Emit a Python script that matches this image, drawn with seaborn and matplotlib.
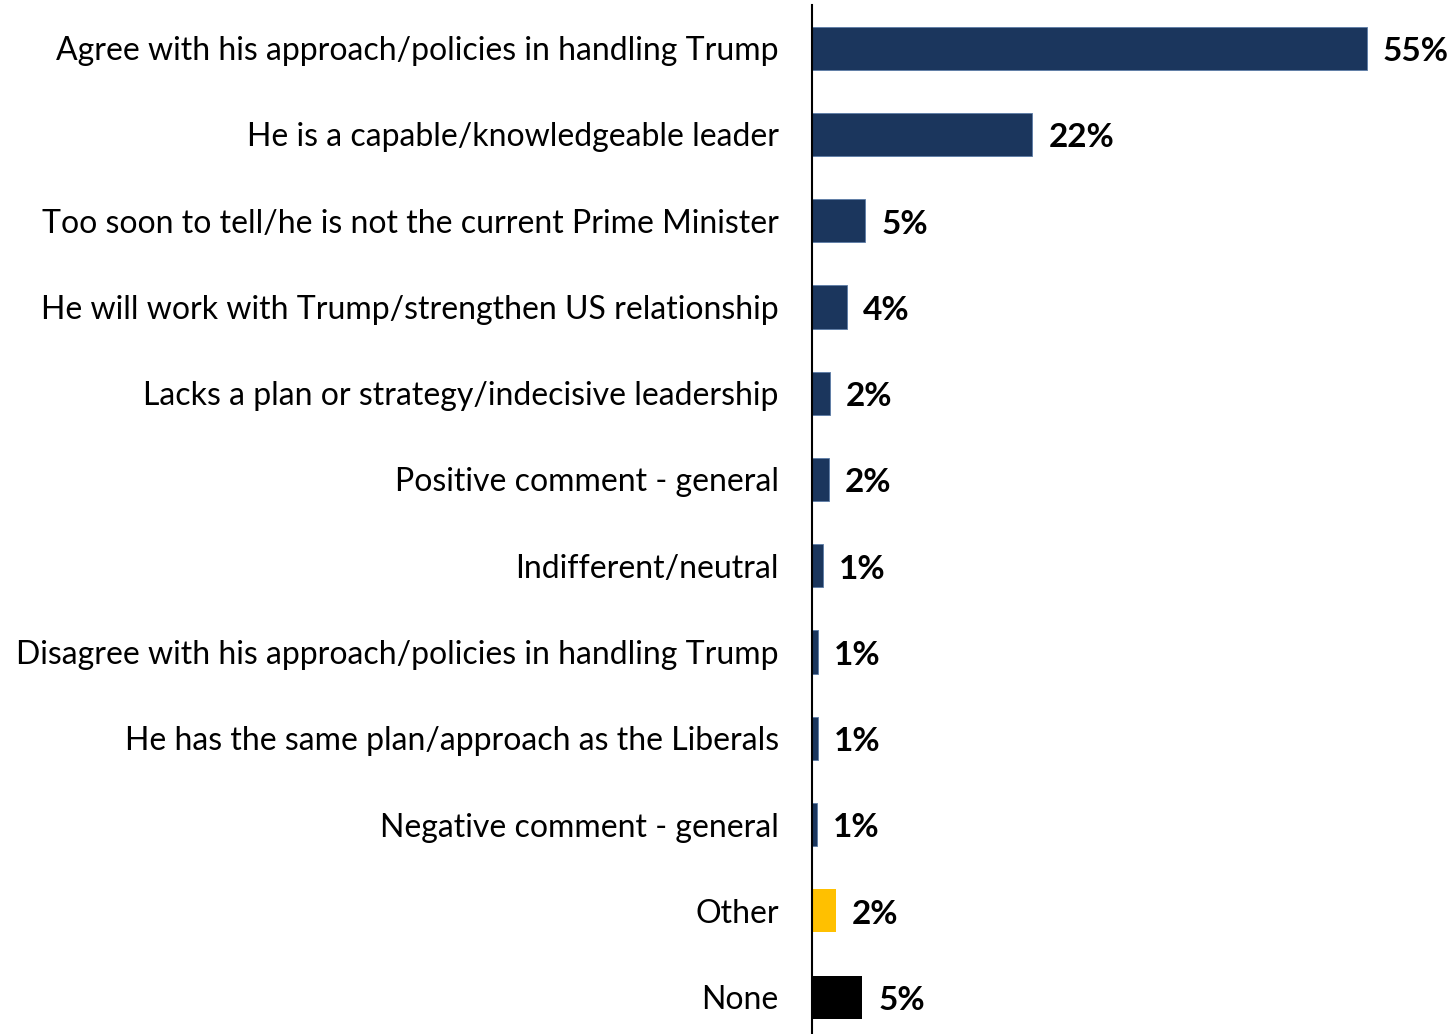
import matplotlib
matplotlib.use('Agg')
import matplotlib.pyplot as plt
import seaborn as sns
import pandas as pd

# reasons and shares (%)
reasons = ['Agree with his approach/policies in handling Trump',
           'He is a capable/knowledgeable leader',
           'Too soon to tell/he is not the current Prime Minister',
           'He will work with Trump/strengthen US relationship',
           'Lacks a plan or strategy/indecisive leadership',
           'Positive comment - general',
           'Indifferent/neutral',
           'Disagree with his approach/policies in handling Trump',
           'He has the same plan/approach as the Liberals',
           'Negative comment - general',
           'Other',
           'None']
shares = [55.4, 22.0, 5.3, 3.5, 1.8, 1.7, 1.1, 0.6, 0.6, 0.5, 2.4, 5.0]
labels = ['55%', '22%', '5%', '4%', '2%', '2%', '1%', '1%', '1%', '1%', '2%', '5%']
colors = ['#1B365D'] * 10 + ['#FFC000', '#000000']

df = pd.DataFrame({'reason': reasons, 'share': shares})

sns.set_style('white')
plt.rcParams['font.family'] = ['Lato', 'DejaVu Sans']

fig = plt.figure(figsize=(14.53, 10.34), dpi=100)
ax = fig.add_axes([812 / 1453, 0, 601 / 1453, 1029 / 1034])

sns.barplot(data=df, x='share', y='reason', hue='reason', palette=colors,
            legend=False, width=0.5, ax=ax, saturation=1,
            edgecolor='#5B7BA6', linewidth=0.6)
# only the navy bars have the light outline
for p in ax.patches[-2:]:
    p.set_linewidth(0)

for i, (v, lab) in enumerate(zip(shares, labels)):
    ax.text(v + 1.6, i + 0.04, lab, va='center', ha='left',
            fontsize=24, fontweight='bold', color='black')

ax.set_xlim(0, 60)
ax.set_ylim(11.428, -0.5)
ax.set_xlabel('')
ax.set_ylabel('')
ax.set_xticks([])
ax.tick_params(axis='y', length=0, pad=24, labelsize=23, labelcolor='black')
for s in ['top', 'right', 'bottom']:
    ax.spines[s].set_visible(False)
ax.spines['left'].set_color('black')
ax.spines['left'].set_linewidth(1.5)

fig.savefig('out.png', dpi=100)
